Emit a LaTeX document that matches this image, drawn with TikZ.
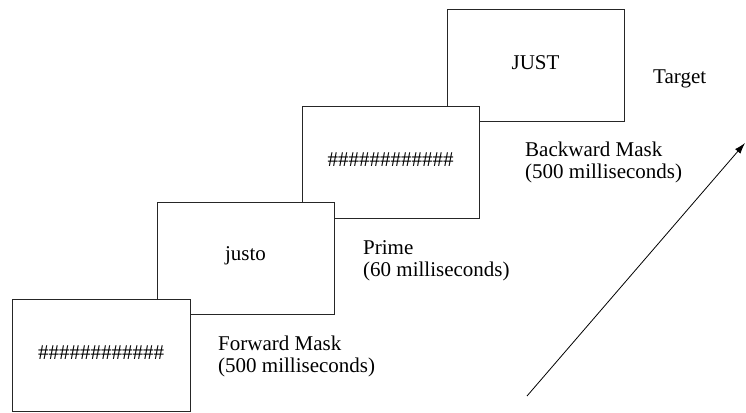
\documentclass[tikz,border=0pt]{standalone}
\usepackage{fontspec}
\setmainfont{Liberation Serif}
\usetikzlibrary{arrows.meta}
\begin{document}
\begin{tikzpicture}[x=1pt,y=-1pt,
  screen/.style={draw=black!85,line width=0.8pt,fill=white},
  stim/.style={font=\fontsize{21}{22}\selectfont,inner sep=0pt},
  lab/.style={font=\fontsize{21}{22}\selectfont,inner sep=0pt,anchor=base west,align=left},
  timearrow/.style={line width=0.8pt,-{Latex[length=11pt,width=7pt]}}]
\useasboundingbox (0,0) rectangle (746,412);
% screens, back to front
\draw[screen] (447,9) rectangle (624,121) coordinate (b4);
\node[stim] (t4) at (535.5,63) {JUST};
\draw[screen] (302,106) rectangle (479,218);
\node[stim] (t3) at (390.5,160) {\#\#\#\#\#\#\#\#\#\#\#\#};
\draw[screen] (157,202) rectangle (334,314);
\node[stim] (t2) at (245.5,256) {justo};
\draw[screen] (12,299) rectangle (190,411);
\node[stim] (t1) at (101,353) {\#\#\#\#\#\#\#\#\#\#\#\#};
% labels
\node[lab] (l4) at (653,83) {Target};
\node[lab] (l3) at (525,178) {Backward Mask\\(500 milliseconds)};
\node[lab] (l2) at (363,276) {Prime\\(60 milliseconds)};
\node[lab] (l1) at (218,372) {Forward Mask\\(500 milliseconds)};
% time arrow
\coordinate (a0) at (527,396);
\coordinate (a1) at (745,143);
\draw[timearrow] (a0) -- (a1);
\end{tikzpicture}
\end{document}
